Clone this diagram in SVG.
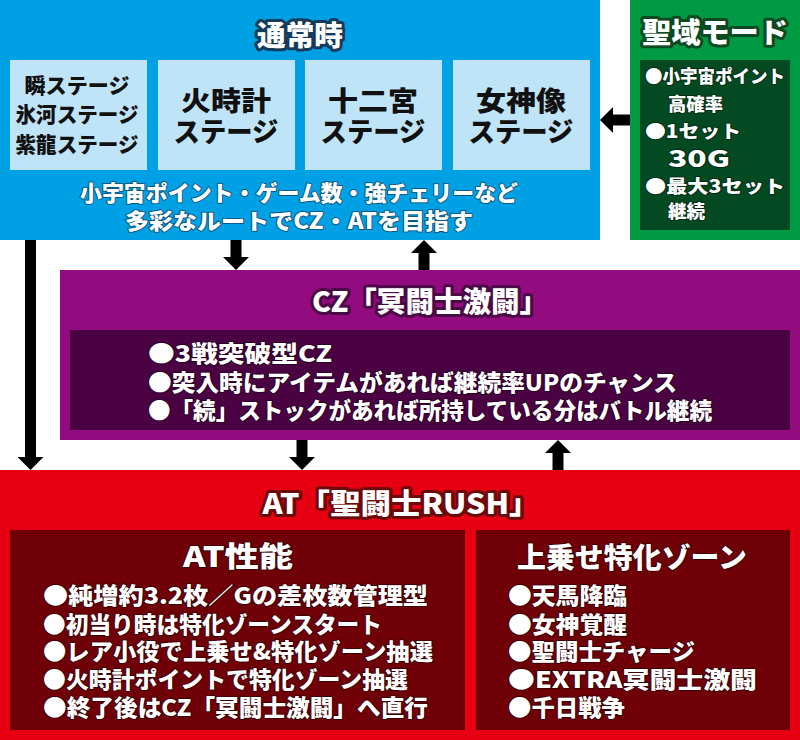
<svg xmlns="http://www.w3.org/2000/svg" width="800" height="740" viewBox="0 0 800 740">
<defs>
<style>
text{font-family:"Noto Sans CJK JP","Noto Sans",sans-serif;font-weight:900;dominant-baseline:central}
.ttl{font-size:28px;fill:#fff;stroke-width:6;paint-order:stroke;stroke-linejoin:round;text-anchor:middle}
.mid{text-anchor:middle}
.stg{fill:#111;font-size:27px;text-anchor:middle}
.stg1{fill:#111;font-size:21px;text-anchor:middle}
.wb{fill:#fff;stroke-width:2;paint-order:stroke;stroke-linejoin:round}
.conn{stroke:#000;stroke-width:11;fill:none;marker-end:url(#ah)}
</style>
<marker id="ah" markerUnits="userSpaceOnUse" markerWidth="13" markerHeight="26" viewBox="0 0 13 26" refX="0" refY="13" orient="auto">
<path d="M0,0 L13,13 L0,26 Z" fill="#000"/>
</marker>
</defs>
<rect width="800" height="740" fill="#fff"/>

<g id="normal">
<rect x="0" y="0" width="600" height="240" fill="#00a0e4"/>
<text class="ttl" x="300" y="34" stroke="#163a5a" textLength="86" lengthAdjust="spacingAndGlyphs">通常時</text>
<rect x="10" y="60" width="137" height="110" fill="#c0e4f7"/>
<text class="stg1" x="77" y="84" textLength="105" lengthAdjust="spacingAndGlyphs">瞬ステージ</text>
<text class="stg1" x="77" y="113" textLength="123" lengthAdjust="spacingAndGlyphs">氷河ステージ</text>
<text class="stg1" x="77" y="143" textLength="123" lengthAdjust="spacingAndGlyphs">紫龍ステージ</text>
<rect x="158" y="60" width="137" height="110" fill="#c0e4f7"/>
<text class="stg" x="226" y="99" textLength="90" lengthAdjust="spacingAndGlyphs">火時計</text>
<text class="stg" x="226" y="130" textLength="105" lengthAdjust="spacingAndGlyphs">ステージ</text>
<rect x="305" y="60" width="137" height="110" fill="#c0e4f7"/>
<text class="stg" x="373" y="99" textLength="90" lengthAdjust="spacingAndGlyphs">十二宮</text>
<text class="stg" x="373" y="130" textLength="105" lengthAdjust="spacingAndGlyphs">ステージ</text>
<rect x="453" y="60" width="137" height="110" fill="#c0e4f7"/>
<text class="stg" x="521" y="99" textLength="90" lengthAdjust="spacingAndGlyphs">女神像</text>
<text class="stg" x="521" y="130" textLength="105" lengthAdjust="spacingAndGlyphs">ステージ</text>
<text class="wb mid" x="299" y="191" font-size="22" stroke="#0a5a86" textLength="438" lengthAdjust="spacingAndGlyphs">小宇宙ポイント・ゲーム数・強チェリーなど</text>
<text class="wb mid" x="299" y="219" font-size="22" stroke="#0a5a86" textLength="348" lengthAdjust="spacingAndGlyphs">多彩なルートでCZ・ATを目指す</text>
</g>

<g id="sanctuary">
<rect x="630" y="0" width="170" height="240" fill="#009a44"/>
<text class="ttl" x="715" y="31" stroke="#0b4a20" textLength="146" lengthAdjust="spacingAndGlyphs">聖域モード</text>
<rect x="640" y="60" width="150" height="170" fill="#034a22"/>
<g font-size="18">
<text class="wb" x="645" y="75" stroke="#022e15" textLength="140" lengthAdjust="spacingAndGlyphs">●小宇宙ポイント</text>
<text class="wb" x="668" y="103" stroke="#022e15" textLength="55" lengthAdjust="spacingAndGlyphs">高確率</text>
<text class="wb" x="645" y="130" stroke="#022e15" textLength="96" lengthAdjust="spacingAndGlyphs">●1セット</text>
<text class="wb" x="668" y="157" stroke="#022e15" font-size="23" textLength="62" lengthAdjust="spacingAndGlyphs">30G</text>
<text class="wb" x="645" y="185" stroke="#022e15" textLength="140" lengthAdjust="spacingAndGlyphs">●最大3セット</text>
<text class="wb" x="668" y="210" stroke="#022e15" textLength="37" lengthAdjust="spacingAndGlyphs">継続</text>
</g>
</g>

<g id="cz">
<rect x="60" y="270" width="740" height="170" fill="#920c80"/>
<text class="ttl" x="430" y="300" stroke="#4a0a45" textLength="236" lengthAdjust="spacingAndGlyphs">CZ「冥闘士激闘」</text>
<rect x="70" y="330" width="720" height="100" fill="#4a0242"/>
<g font-size="22.5">
<text class="wb" x="148" y="352" stroke="#2a0026" textLength="184" lengthAdjust="spacingAndGlyphs">●3戦突破型CZ</text>
<text class="wb" x="148" y="381" stroke="#2a0026" textLength="529" lengthAdjust="spacingAndGlyphs">●突入時にアイテムがあれば継続率UPのチャンス</text>
<text class="wb" x="148" y="409" stroke="#2a0026" textLength="564" lengthAdjust="spacingAndGlyphs">●「続」ストックがあれば所持している分はバトル継続</text>
</g>
</g>

<g id="at">
<rect x="0" y="470" width="800" height="270" fill="#e60012"/>
<text class="ttl" x="401" y="502" stroke="#6b0a0a" textLength="277" lengthAdjust="spacingAndGlyphs">AT「聖闘士RUSH」</text>
<rect x="10" y="530" width="455" height="200" fill="#700008"/>
<text class="wb mid" x="238" y="555" font-size="28" stroke="#3a0004" textLength="110" lengthAdjust="spacingAndGlyphs">AT性能</text>
<g font-size="23">
<text class="wb" x="43" y="594" stroke="#3a0004" textLength="385" lengthAdjust="spacingAndGlyphs">●純増約3.2枚／Gの差枚数管理型</text>
<text class="wb" x="43" y="623" stroke="#3a0004" textLength="339" lengthAdjust="spacingAndGlyphs">●初当り時は特化ゾーンスタート</text>
<text class="wb" x="43" y="650" stroke="#3a0004" textLength="390" lengthAdjust="spacingAndGlyphs">●レア小役で上乗せ&amp;特化ゾーン抽選</text>
<text class="wb" x="43" y="678" stroke="#3a0004" textLength="365" lengthAdjust="spacingAndGlyphs">●火時計ポイントで特化ゾーン抽選</text>
<text class="wb" x="43" y="706" stroke="#3a0004" textLength="385" lengthAdjust="spacingAndGlyphs">●終了後はCZ「冥闘士激闘」へ直行</text>
</g>
</g>

<g id="zone">
<rect x="476" y="530" width="314" height="200" fill="#700008"/>
<text class="wb mid" x="632" y="556" font-size="28" stroke="#3a0004" textLength="230" lengthAdjust="spacingAndGlyphs">上乗せ特化ゾーン</text>
<g font-size="23">
<text class="wb" x="508" y="594" stroke="#3a0004" textLength="119" lengthAdjust="spacingAndGlyphs">●天馬降臨</text>
<text class="wb" x="508" y="623" stroke="#3a0004" textLength="119" lengthAdjust="spacingAndGlyphs">●女神覚醒</text>
<text class="wb" x="508" y="650" stroke="#3a0004" textLength="187" lengthAdjust="spacingAndGlyphs">●聖闘士チャージ</text>
<text class="wb" x="508" y="678" stroke="#3a0004" textLength="249" lengthAdjust="spacingAndGlyphs">●EXTRA冥闘士激闘</text>
<text class="wb" x="508" y="706" stroke="#3a0004" textLength="117" lengthAdjust="spacingAndGlyphs">●千日戦争</text>
</g>
</g>

<g id="connectors">
<path class="conn" d="M630,120 H613"/>
<path class="conn" d="M236,240 V257"/>
<path class="conn" d="M424,270 V253"/>
<path class="conn" d="M30.5,240 V457"/>
<path class="conn" d="M302,440 V457"/>
<path class="conn" d="M558,470 V453"/>
</g>
</svg>
